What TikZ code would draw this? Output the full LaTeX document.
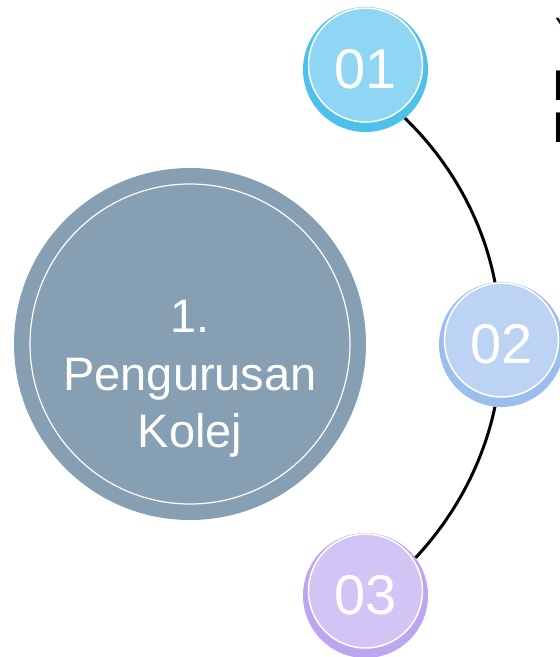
\documentclass[tikz,border=0pt]{standalone}
\usepackage{fontspec}
\setmainfont{Liberation Sans}
\usetikzlibrary{shapes,arrows}
\definecolor{kolejgrey}{HTML}{869FB3}
\definecolor{ringone}{HTML}{4EC1EB}
\definecolor{faceone}{HTML}{8ED6F3}
\definecolor{ringtwo}{HTML}{9BBEEF}
\definecolor{facetwo}{HTML}{BDD3F3}
\definecolor{ringthree}{HTML}{BDA6F0}
\definecolor{facethree}{HTML}{D3C4F6}
\newcommand{\stepbadge}[6]{
  \node[badge ring, fill=#4] (#1) at (#2,#3) {};
  \node[badge face, fill=#5] (#1f) at (#2,#3+4.5) {};
  \node[badge text] (#1t) at (#2,#3) {#6};
}
\tikzset{x=1pt, y=1pt,
  badge ring/.style = {circle, minimum size=125pt, inner sep=0pt},
  badge face/.style = {circle, minimum size=114pt, inner sep=0pt, draw=white, line width=1.5pt},
  badge text/.style = {text=white, inner sep=0pt, font=\fontsize{56}{56}\selectfont},
  side text/.style = {anchor=base west, inner sep=0pt},
  link/.style = {line width=3pt, looseness=0.87}}

\begin{document}
\begin{tikzpicture}
	\useasboundingbox (0,0) rectangle (560,-657);
	\clip (0,0) rectangle (560,-657);
	\node[circle, fill=kolejgrey, minimum size=352pt, inner sep=0pt] (kolej) at (190,-344) {};
	\node[circle, draw=white, line width=1.2pt, minimum size=320pt, inner sep=0pt] (kolejring) at (190,-344) {};
	\node[text=white, align=center, inner sep=0pt, font=\fontsize{47}{57.5}\selectfont] (kolejtext) at (190,-379) {1.\\Pengurusan\\Kolej};
	\stepbadge{n01}{365.5}{-69.5}{ringone}{faceone}{01}
	\stepbadge{n02}{501.5}{-344.5}{ringtwo}{facetwo}{02}
	\stepbadge{n03}{365.5}{-595.5}{ringthree}{facethree}{03}
	\draw[link] (n01.-51) to[out=-44, in=101] (n02.96);
	\draw[link] (n02.-96) to[out=-102, in=47] (n03.37);
	\node[side text, font=\fontsize{28}{28}\selectfont] (sideY) at (555,-37) {Y};
	\node[side text, font=\fontsize{43}{43}\selectfont] (sideA) at (552,-100) {I};
	\node[side text, font=\fontsize{43}{43}\selectfont] (sideB) at (552,-142) {I};
\end{tikzpicture}
\end{document}
